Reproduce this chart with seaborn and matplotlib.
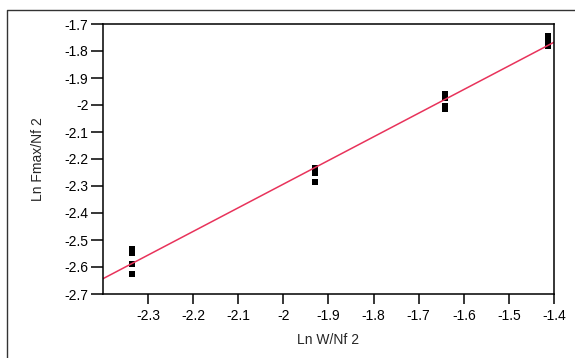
import numpy as np
import pandas as pd
import matplotlib
matplotlib.use("Agg")
import matplotlib.pyplot as plt
from matplotlib.lines import Line2D
import seaborn as sns

# Data
ln_w_nf2 = [-2.336, -2.336, -2.336, -2.336,
            -1.930, -1.930, -1.930,
            -1.642, -1.642, -1.642, -1.642,
            -1.413, -1.413, -1.413, -1.413]
ln_fmax_nf2 = [-2.535, -2.548, -2.590, -2.625,
               -2.235, -2.250, -2.285,
               -1.960, -1.975, -2.005, -2.015,
               -1.745, -1.758, -1.770, -1.782]
x_ticks = [-2.3, -2.2, -2.1, -2.0, -1.9, -1.8, -1.7, -1.6, -1.5, -1.4]
x_tick_labels = ["-2.3", "-2.2", "-2.1", "-2", "-1.9", "-1.8", "-1.7", "-1.6", "-1.5", "-1.4"]
y_ticks = [-1.7, -1.8, -1.9, -2.0, -2.1, -2.2, -2.3, -2.4, -2.5, -2.6, -2.7]
y_tick_labels = ["-1.7", "-1.8", "-1.9", "-2", "-2.1", "-2.2", "-2.3", "-2.4", "-2.5", "-2.6", "-2.7"]

df = pd.DataFrame({"x": ln_w_nf2, "y": ln_fmax_nf2})

sns.set_style("white")
plt.rcParams["font.family"] = ["Liberation Sans", "DejaVu Sans"]
plt.rcParams["axes.unicode_minus"] = False

fig = plt.figure(figsize=(5.75, 3.58), dpi=100)
ax = fig.add_axes([103/575, 1-294/358, (554-103)/575, (294-24)/358])
ax.set_xlim(-2.4, -1.4)
ax.set_ylim(-2.7, -1.7)

sns.regplot(data=df, x="x", y="y", ax=ax, ci=None, truncate=False, marker="s",
            scatter_kws=dict(s=18, color="black", linewidths=0, alpha=1),
            line_kws=dict(color="#e8335b", lw=1.1))
ax.set_xlim(-2.4, -1.4)
ax.set_ylim(-2.7, -1.7)

ax.set_xticks(x_ticks)
ax.set_xticklabels(x_tick_labels)
ax.set_yticks(y_ticks)
ax.set_yticklabels(y_tick_labels)
ax.tick_params(axis="x", direction="out", length=7, width=1.1, pad=4, labelsize=10,
               bottom=True, colors="black")
ax.tick_params(axis="y", direction="out", length=8.5, width=1.1, pad=2, labelsize=10,
               left=True, colors="black")
for s in ax.spines.values():
    s.set_color("black")
    s.set_linewidth(1.1)

ax.set_xlabel("Ln W/Nf 2", fontsize=10, labelpad=7)
ax.set_ylabel("Ln Fmax/Nf 2", fontsize=10, labelpad=14)

# outer frame
fig.add_artist(Line2D([7/575, 7/575, 1.0], [0.0, 1-10/358, 1-10/358],
                      transform=fig.transFigure, color="#333333", lw=1.0))

fig.savefig("out.png", dpi=100)
